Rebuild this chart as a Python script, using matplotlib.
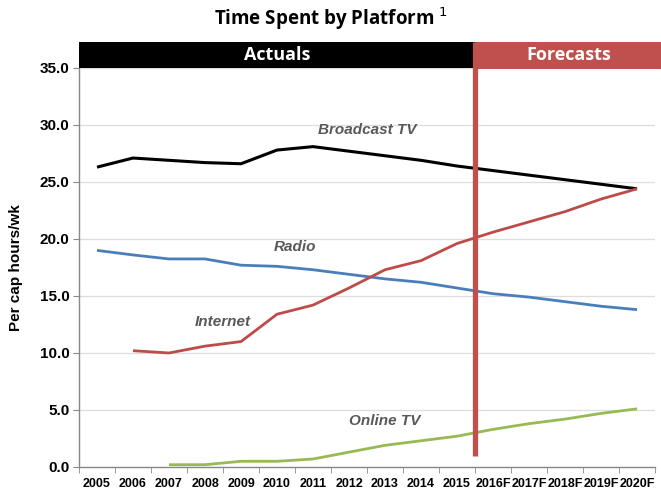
import matplotlib.pyplot as plt
from matplotlib.patches import Rectangle

# ---------------------------------------------------------------
# data
# ---------------------------------------------------------------
years = ['2005', '2006', '2007', '2008', '2009', '2010', '2011', '2012',
         '2013', '2014', '2015', '2016F', '2017F', '2018F', '2019F', '2020F']

broadcast_tv = [26.3, 27.1, 26.9, 26.7, 26.6, 27.8, 28.1, 27.7,
                27.3, 26.9, 26.4, 26.0, 25.6, 25.2, 24.8, 24.4]
radio = [19.0, 18.6, 18.25, 18.25, 17.7, 17.6, 17.3, 16.9,
         16.5, 16.2, 15.7, 15.2, 14.9, 14.5, 14.1, 13.8]
internet = [None, 10.2, 10.0, 10.6, 11.0, 13.4, 14.2, 15.7,
            17.3, 18.1, 19.6, 20.6, 21.5, 22.4, 23.5, 24.4]
online_tv = [None, None, 0.2, 0.2, 0.5, 0.5, 0.7, 1.3,
             1.9, 2.3, 2.7, 3.3, 3.8, 4.2, 4.7, 5.1]

y_ticks = [0, 5, 10, 15, 20, 25, 30, 35]

# ---------------------------------------------------------------
plt.rcParams['font.family'] = ['Liberation Sans Narrow', 'Liberation Sans', 'DejaVu Sans']

fig = plt.figure(figsize=(6.61, 4.94), dpi=100)
ax = fig.add_axes([0.1195, 0.0547, 0.8715, 0.8077])

x = list(range(len(years)))


def plot_series(vals, color, lw):
    xs = [i for i, v in zip(x, vals) if v is not None]
    ys = [v for v in vals if v is not None]
    ax.plot(xs, ys, color=color, lw=lw, zorder=3, solid_capstyle='butt')


plot_series(broadcast_tv, '#000000', 2.2)
plot_series(radio, '#4a7ebb', 2.0)
plot_series(internet, '#be4b48', 2.0)
plot_series(online_tv, '#98b954', 2.0)

ax.set_xlim(-0.5, len(years) - 0.5)
ax.set_ylim(0, 35)
ax.set_yticks(y_ticks)
ax.set_yticklabels([f"{v:.1f}" for v in y_ticks], fontsize=11, fontweight='bold')
ax.set_xticks(x)
ax.set_xticklabels(years, fontsize=9, fontweight='bold')
ax.set_xticks([i - 0.5 for i in range(len(years) + 1)], minor=True)
ax.tick_params(axis='x', which='major', length=0, pad=8)
ax.tick_params(axis='x', which='minor', length=4, color='#888888')
ax.tick_params(axis='y', length=4, color='#888888', pad=3)

ax.grid(axis='y', color='#dddddd', lw=0.9, zorder=0)
for side in ['top', 'right']:
    ax.spines[side].set_visible(False)
for side in ['left', 'bottom']:
    ax.spines[side].set_color('#888888')
    ax.spines[side].set_linewidth(1.0)

ax.set_ylabel('Per cap hours/wk', fontsize=11, fontweight='bold', labelpad=12)

# header bands
split = 10.5
ax.add_patch(Rectangle((-0.5, 35), split + 0.5, 2.3, facecolor='black',
                       edgecolor='none', clip_on=False, zorder=4))
ax.add_patch(Rectangle((split, 34.9), 5.2, 2.4, facecolor='#c0504d',
                       edgecolor='none', clip_on=False, zorder=4))
ax.text(5.0, 36.15, 'Actuals', color='white', fontsize=13, fontweight='bold',
        ha='center', va='center', family=['Open Sans', 'DejaVu Sans'], zorder=5)
ax.text(13.1, 36.15, 'Forecasts', color='white', fontsize=13, fontweight='bold',
        ha='center', va='center', family=['Open Sans', 'DejaVu Sans'], zorder=5)

# divider
ax.plot([split, split], [1.0, 37.3], color='#c0504d', lw=3.8, zorder=4,
        clip_on=False, solid_capstyle='butt')

# series labels
lab = dict(color='#595959', fontsize=11, fontweight='bold', style='italic',
           ha='center', va='center', family=['Liberation Sans', 'DejaVu Sans'])
ax.text(7.5, 29.6, 'Broadcast TV', **lab)
ax.text(5.5, 19.3, 'Radio', **lab)
ax.text(3.5, 12.7, 'Internet', **lab)
ax.text(8.0, 4.0, 'Online TV', **lab)

fig.text(0.5, 0.962, 'Time Spent by Platform $^{1}$', ha='center', va='center',
         fontsize=13.5, fontweight='bold', family=['Open Sans', 'DejaVu Sans'])

fig.savefig('out.png', dpi=100)
